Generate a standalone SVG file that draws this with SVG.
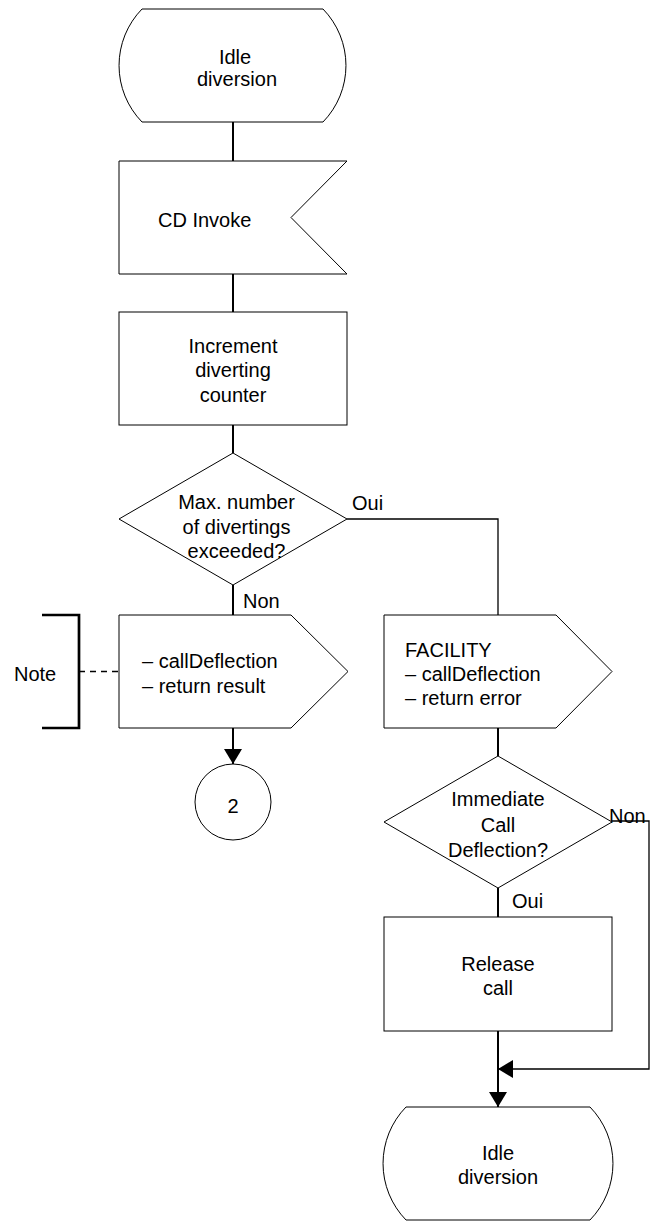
<svg xmlns="http://www.w3.org/2000/svg" width="650" height="1221" viewBox="0 0 650 1221">
  <style>
    .shape { fill: #fff; stroke: #000; stroke-width: 1; }
    .txt { font-family: "Liberation Sans", Arial, sans-serif; font-size: 20px; fill: #000; }
    .mid { text-anchor: middle; }
    .flow { fill: none; stroke: #000; stroke-width: 2; }
    .branch { fill: none; stroke: #000; stroke-width: 1.3; }
  </style>
  <defs>
    <marker id="arrow" viewBox="0 0 15 18" refX="15" refY="9" markerWidth="15" markerHeight="18" markerUnits="userSpaceOnUse" orient="auto">
      <path d="M0,0 L15,9 L0,18 Z" fill="#000"/>
    </marker>
  </defs>

  <!-- connectors -->
  <g id="connectors">
    <line class="flow" x1="233" y1="122" x2="233" y2="161"/>
    <line class="flow" x1="233" y1="274" x2="233" y2="312"/>
    <line class="flow" x1="233" y1="425" x2="233" y2="453"/>
    <line class="flow" x1="233" y1="585" x2="233" y2="615"/>
    <line class="flow" x1="233" y1="728" x2="233" y2="764" marker-end="url(#arrow)"/>
    <polyline class="branch" points="347,519 498,519 498,615"/>
    <line class="flow" x1="498" y1="728" x2="498" y2="756"/>
    <line class="flow" x1="498" y1="888" x2="498" y2="917"/>
    <line class="flow" x1="498" y1="1031" x2="498" y2="1107" marker-end="url(#arrow)"/>
    <polyline class="branch" points="612,821 649,821 649,1069 498,1069" marker-end="url(#arrow)"/>
    <!-- note link -->
    <line x1="79" y1="671.5" x2="119" y2="671.5" stroke="#000" stroke-width="1.3" stroke-dasharray="6,5"/>
    <text class="txt" x="352" y="510">Oui</text>
    <text class="txt" x="243" y="608">Non</text>
    <text class="txt" x="609" y="823">Non</text>
    <text class="txt" x="512" y="908">Oui</text>
  </g>

  <!-- start state -->
  <g id="state-idle-top">
    <path class="shape" d="M142,9 H323 A81,81 0 0 1 323,122 H142 A81,81 0 0 1 142,9 Z"/>
    <text class="txt mid" x="235" y="64">Idle</text>
    <text class="txt mid" x="237" y="86">diversion</text>
  </g>

  <!-- input signal -->
  <g id="input-cd-invoke">
    <path class="shape" d="M119,161 H347 L291,217.5 L347,274 H119 Z"/>
    <text class="txt" x="158" y="227">CD Invoke</text>
  </g>

  <!-- task -->
  <g id="task-increment">
    <rect class="shape" x="119" y="312" width="228" height="113"/>
    <text class="txt mid" x="233" y="353">Increment</text>
    <text class="txt mid" x="233" y="377">diverting</text>
    <text class="txt mid" x="233" y="401.5">counter</text>
  </g>

  <!-- decision -->
  <g id="decision-max">
    <path class="shape" d="M233,453 L347,519 L233,585 L119,519 Z"/>
    <text class="txt mid" x="236.5" y="509">Max. number</text>
    <text class="txt mid" x="236.5" y="533.5">of divertings</text>
    <text class="txt mid" x="236.5" y="558">exceeded?</text>
  </g>

  <!-- output signal, result -->
  <g id="output-result">
    <path class="shape" d="M119,615 H291 L348,671.5 L291,728 H119 Z"/>
    <text class="txt" x="142" y="668">– callDeflection</text>
    <text class="txt" x="142" y="693">– return result</text>
  </g>

  <!-- comment -->
  <g id="note">
    <path d="M42,615 H79 V728 H42" fill="none" stroke="#000" stroke-width="2.7"/>
    <text class="txt" x="14" y="681">Note</text>
  </g>

  <!-- connector 2 -->
  <g id="connector-2">
    <circle class="shape" cx="233" cy="802" r="38"/>
    <text class="txt mid" x="233" y="813">2</text>
  </g>

  <!-- output signal, error -->
  <g id="output-error">
    <path class="shape" d="M384,615 H556 L612,671.5 L556,728 H384 Z"/>
    <text class="txt" x="405" y="657">FACILITY</text>
    <text class="txt" x="405" y="681">– callDeflection</text>
    <text class="txt" x="405" y="705">– return error</text>
  </g>

  <!-- decision -->
  <g id="decision-immediate">
    <path class="shape" d="M498,756 L612,822 L498,888 L384,822 Z"/>
    <text class="txt mid" x="498" y="806">Immediate</text>
    <text class="txt mid" x="498" y="831.5">Call</text>
    <text class="txt mid" x="498" y="856.5">Deflection?</text>
  </g>

  <!-- task -->
  <g id="task-release">
    <rect class="shape" x="384" y="917" width="228" height="114"/>
    <text class="txt mid" x="498" y="971">Release</text>
    <text class="txt mid" x="498" y="995">call</text>
  </g>

  <!-- end state -->
  <g id="state-idle-bottom">
    <path class="shape" d="M406,1107 H590 A81,81 0 0 1 590,1220 H406 A81,81 0 0 1 406,1107 Z"/>
    <text class="txt mid" x="498" y="1160">Idle</text>
    <text class="txt mid" x="498" y="1184">diversion</text>
  </g>
</svg>
